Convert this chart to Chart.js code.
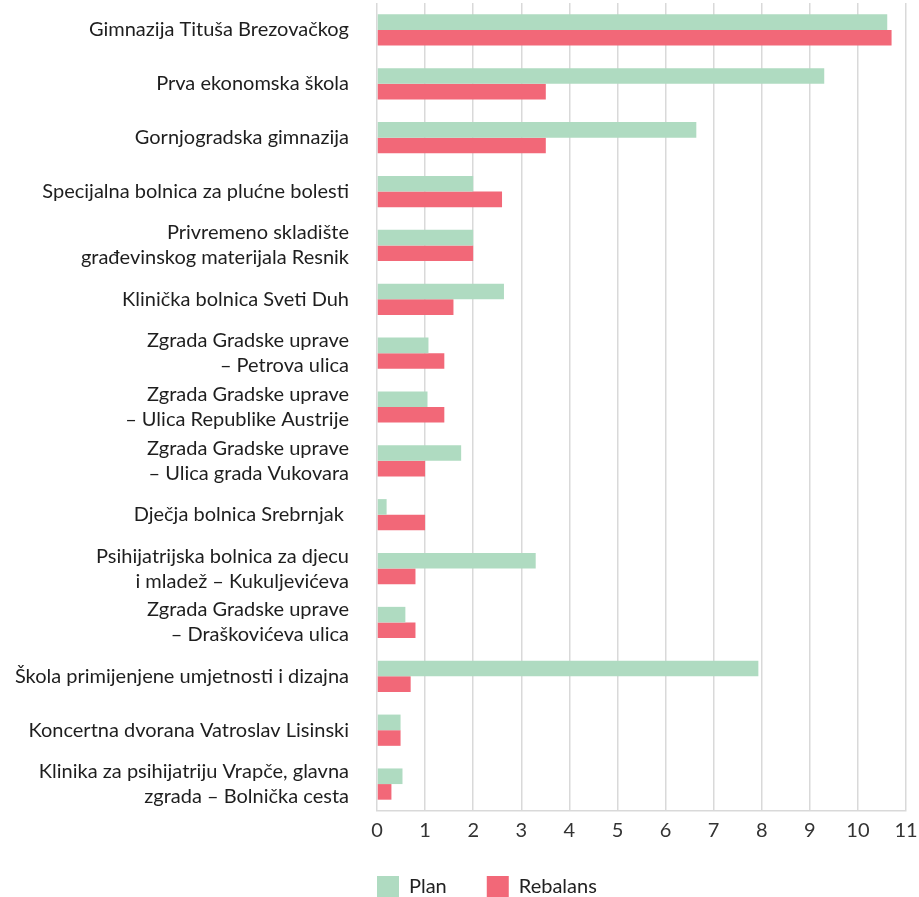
<!DOCTYPE html>
<html>
<head>
<meta charset="utf-8">
<script src="https://cdn.jsdelivr.net/npm/chart.js@4/dist/chart.umd.min.js"></script>
<style>
    html, body { margin: 0; padding: 0; background: #ffffff; }
    #wrap { width: 919px; height: 897px; position: relative; }
</style>
</head>
<body>
<div id="wrap"><canvas id="chartObjekti"></canvas></div>
<script>
// Objekti (multi-line labels as arrays)
const categories = [
    "Gimnazija Tituša Brezovačkog",
    "Prva ekonomska škola",
    "Gornjogradska gimnazija",
    "Specijalna bolnica za plućne bolesti",
    ["Privremeno skladište", "građevinskog materijala Resnik"],
    "Klinička bolnica Sveti Duh",
    ["Zgrada Gradske uprave", "– Petrova ulica"],
    ["Zgrada Gradske uprave", "– Ulica Republike Austrije"],
    ["Zgrada Gradske uprave", "– Ulica grada Vukovara"],
    "Dječja bolnica Srebrnjak ",
    ["Psihijatrijska bolnica za djecu", "i mladež – Kukuljevićeva"],
    ["Zgrada Gradske uprave", "– Draškovićeva ulica"],
    "Škola primijenjene umjetnosti i dizajna",
    "Koncertna dvorana Vatroslav Lisinski",
    ["Klinika za psihijatriju Vrapče, glavna", "zgrada – Bolnička cesta"],
];

const planValues = [10.61, 9.3, 6.64, 2.0, 2.0, 2.64, 1.07, 1.05, 1.75, 0.2, 3.3, 0.59, 7.93, 0.49, 0.53];
const rebalansValues = [10.7, 3.51, 3.51, 2.6, 2.0, 1.59, 1.4, 1.4, 1.0, 1.0, 0.8, 0.8, 0.7, 0.49, 0.3];

const xTicks = [0, 1, 2, 3, 4, 5, 6, 7, 8, 9, 10, 11];

const FONT = "Lato, 'Open Sans', sans-serif";
const LEGEND_LIFT = 15; // legenda malo više, bliže osi

// pomak legende: počinje na lijevom rubu grafa
const legendPlace = {
    id: "legendPlace",
    afterLayout(chart) {
        const lg = chart.legend;
        const dx = chart.chartArea.left - lg.options.labels.padding - lg.left;
        lg.left += dx;
        lg.right += dx;
        lg.top -= LEGEND_LIFT;
        lg.bottom -= LEGEND_LIFT;
    },
};

const ctx = document.getElementById("chartObjekti").getContext("2d");

new Chart(ctx, {
    type: "bar",
    data: {
        labels: categories,
        datasets: [
            {
                label: "Plan",
                data: planValues,
                backgroundColor: "#afdbc1",
                borderWidth: 0,
                categoryPercentage: 0.58,
                barPercentage: 1.0,
            },
            {
                label: "Rebalans",
                data: rebalansValues,
                backgroundColor: "#f26878",
                borderWidth: 0,
                categoryPercentage: 0.58,
                barPercentage: 1.0,
            },
        ],
    },
    options: {
        indexAxis: "y",
        responsive: true,
        maintainAspectRatio: false,
        animation: false,
        layout: {
            padding: { top: 3, right: 13, bottom: -25, left: 0 },
        },
        plugins: {
            legend: {
                position: "bottom",
                align: "start",
                labels: {
                    boxWidth: 22,
                    boxHeight: 21,
                    padding: 40,
                    color: "#222222",
                    font: { family: FONT, size: 20 },
                },
            },
            tooltip: { enabled: false },
        },
        scales: {
            x: {
                min: 0,
                max: 11,
                afterBuildTicks: (scale) => {
                    scale.ticks = xTicks.map((v) => ({ value: v }));
                },
                afterFit: (scale) => {
                    // bez dodatnog razmaka za rubne oznake
                    scale.paddingLeft = 0;
                    scale.paddingRight = 0;
                },
                grid: {
                    color: "#d9d9d9",
                    lineWidth: 1.5,
                    drawTicks: false,
                },
                border: { display: true, color: "#d9d9d9", width: 1.5 },
                ticks: {
                    color: "#333333",
                    padding: 10,
                    font: { family: FONT, size: 20, lineHeight: 1 },
                },
            },
            y: {
                afterFit: (scale) => {
                    scale.width = 377;
                    scale.paddingTop = 0;
                    scale.paddingBottom = 0;
                },
                grid: { display: false, drawTicks: false },
                border: { display: false },
                ticks: {
                    color: "#1e1e1e",
                    padding: 28,
                    autoSkip: false,
                    font: { family: FONT, size: 20, lineHeight: 1.25 },
                },
            },
        },
    },
    plugins: [legendPlace],
});
</script>
</body>
</html>
